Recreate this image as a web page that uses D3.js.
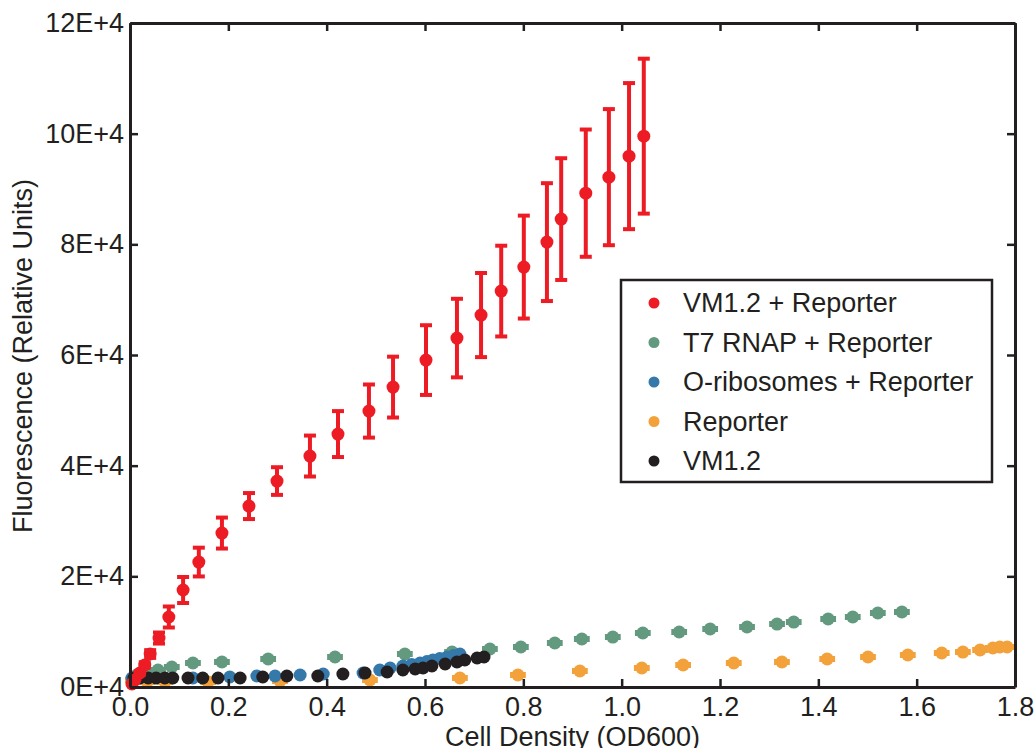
<!DOCTYPE html>
<meta charset="utf-8">
<script src="https://d3js.org/d3.v7.min.js"></script>
<style>
  body { margin: 0; background: #fff; }
  text { font-family: "Liberation Sans", Arial, sans-serif; fill: #231f20; }
</style>
<div id="chart"></div>
<script>

// VM1.2 + Reporter (with standard deviation bars)
var redX   = [0.004, 0.010, 0.020, 0.030, 0.041, 0.059, 0.079, 0.108, 0.140, 0.187, 0.242, 0.299, 0.366, 0.423, 0.486, 0.535, 0.602, 0.665, 0.714, 0.755, 0.801, 0.848, 0.877, 0.927, 0.974, 1.015, 1.045];
var redY   = [540, 1260, 2530, 3975, 5960, 8850, 12650, 17530, 22580, 27820, 32700, 37220, 41740, 45710, 49870, 54200, 59080, 63060, 67220, 71550, 75890, 80400, 84560, 89250, 92140, 95940, 99550];
var redErr = [0, 0, 300, 500, 700, 1000, 1900, 2350, 2600, 2800, 2350, 2500, 3700, 4150, 4800, 5500, 6300, 7100, 7600, 8200, 9300, 10650, 11000, 11500, 12300, 13200, 14000];

// T7 RNAP + Reporter
var greenX = [0.014, 0.035, 0.057, 0.085, 0.128, 0.187, 0.281, 0.417, 0.559, 0.655, 0.732, 0.795, 0.864, 0.919, 0.982, 1.043, 1.117, 1.180, 1.255, 1.316, 1.350, 1.420, 1.470, 1.521, 1.570];
var greenY = [2170, 2530, 3070, 3610, 4340, 4520, 5060, 5420, 5960, 6320, 6870, 7230, 7950, 8670, 9030, 9760, 9940, 10480, 10840, 11380, 11740, 12290, 12650, 13370, 13550];

// O-ribosomes + Reporter
var blueX = [0.004, 0.128, 0.203, 0.258, 0.295, 0.346, 0.393, 0.474, 0.508, 0.529, 0.555, 0.573, 0.590, 0.604, 0.616, 0.630, 0.645, 0.658, 0.671];
var blueY = [1630, 1630, 1810, 1990, 1990, 2170, 2350, 2530, 3070, 3430, 3790, 4060, 4340, 4600, 4880, 5150, 5420, 5690, 5960];

// Reporter
var orangeX = [0.006, 0.035, 0.071, 0.159, 0.305, 0.488, 0.671, 0.789, 0.915, 1.041, 1.125, 1.228, 1.326, 1.418, 1.501, 1.582, 1.651, 1.694, 1.729, 1.755, 1.769, 1.784];
var orangeY = [1260, 900, 900, 900, 1080, 1260, 1630, 2170, 2890, 3430, 3975, 4340, 4520, 5060, 5420, 5780, 6140, 6320, 6690, 7050, 7230, 7230];

// VM1.2
var blackX = [0.008, 0.020, 0.037, 0.053, 0.071, 0.087, 0.118, 0.148, 0.179, 0.224, 0.270, 0.319, 0.382, 0.433, 0.478, 0.523, 0.555, 0.580, 0.596, 0.614, 0.641, 0.665, 0.681, 0.706, 0.720];
var blackY = [1630, 1630, 1630, 1630, 1630, 1630, 1630, 1630, 1630, 1630, 1810, 1990, 1990, 2350, 2530, 2710, 3070, 3250, 3430, 3790, 4160, 4520, 4880, 5240, 5420];

var xTicks = [0, 0.2, 0.4, 0.6, 0.8, 1.0, 1.2, 1.4, 1.6, 1.8];
var yTicks = [0, 20000, 40000, 60000, 80000, 100000, 120000];

var seriesNames  = ["VM1.2 + Reporter", "T7 RNAP + Reporter", "O-ribosomes + Reporter", "Reporter", "VM1.2"];
var seriesColors = ["#ed1c24", "#639a7f", "#3579ab", "#f3a23b", "#231f20"];

// small horizontal (OD) error for the T7 and Reporter series
var odErr = 0.013;

var margin = {top: 23, right: 19, bottom: 61, left: 130},
    width = 1034 - margin.left - margin.right,
    height = 748 - margin.top - margin.bottom;

var svg = d3.select("#chart")
  .append("svg")
    .attr("width", 1034)
    .attr("height", 748)
  .append("g")
    .attr("transform", "translate(" + margin.left + "," + margin.top + ")");

var x = d3.scaleLinear().domain([0, 1.8]).range([0, width]);
var y = d3.scaleLinear().domain([0, 120000]).range([height, 0]);

function pts(xs, ys) {
  return xs.map(function(d, i) { return {x: d, y: ys[i]}; });
}

// draws one series: optional horizontal bars, optional vertical bars, then dots
function drawSeries(data, color, r, hBars, vErr) {
  var g = svg.append("g");
  if (hBars) {
    data.forEach(function(d) {
      var x0 = x(d.x - odErr), x1 = x(d.x + odErr), cy = y(d.y);
      g.append("line").attr("x1", x0).attr("x2", x1).attr("y1", cy).attr("y2", cy)
        .style("stroke", color).style("stroke-width", 5);
      [x0, x1].forEach(function(cx) {
        g.append("line").attr("x1", cx).attr("x2", cx).attr("y1", cy - 3).attr("y2", cy + 3)
          .style("stroke", color).style("stroke-width", 3);
      });
    });
  }
  if (vErr) {
    data.forEach(function(d, i) {
      if (!vErr[i]) return;
      var cx = x(d.x), y0 = y(d.y - vErr[i]), y1 = y(d.y + vErr[i]);
      g.append("line").attr("x1", cx).attr("x2", cx).attr("y1", y0).attr("y2", y1)
        .style("stroke", color).style("stroke-width", 4);
      [y0, y1].forEach(function(cy) {
        g.append("line").attr("x1", cx - 6).attr("x2", cx + 6).attr("y1", cy).attr("y2", cy)
          .style("stroke", color).style("stroke-width", 4);
      });
    });
  }
  g.selectAll("circle")
    .data(data)
    .enter()
    .append("circle")
      .attr("cx", function(d) { return x(d.x); })
      .attr("cy", function(d) { return y(d.y); })
      .attr("r", r)
      .style("fill", color);
}

drawSeries(pts(greenX, greenY), seriesColors[1], 6.5, true, null);
drawSeries(pts(orangeX, orangeY), seriesColors[3], 6.5, true, null);
drawSeries(pts(blueX, blueY), seriesColors[2], 6.5, false, null);
drawSeries(pts(blackX, blackY), seriesColors[4], 6.5, false, null);
drawSeries(pts(redX, redY), seriesColors[0], 6.5, false, redErr);

// axes, ticks pointing inwards, on all four sides
var fmtY = function(d) { return (d / 10000) + "E+4"; };

var xAxis = svg.append("g")
  .attr("transform", "translate(0," + height + ")")
  .call(d3.axisBottom(x).tickValues(xTicks).tickSizeInner(-8).tickSizeOuter(0).tickPadding(10)
    .tickFormat(d3.format(".1f")));
var xAxisTop = svg.append("g")
  .call(d3.axisTop(x).tickValues(xTicks).tickSizeInner(-8).tickSizeOuter(0).tickFormat(""));
var yAxis = svg.append("g")
  .call(d3.axisLeft(y).tickValues(yTicks).tickSizeInner(-8).tickSizeOuter(0).tickPadding(6)
    .tickFormat(fmtY));
var yAxisRight = svg.append("g")
  .attr("transform", "translate(" + width + ",0)")
  .call(d3.axisRight(y).tickValues(yTicks).tickSizeInner(-8).tickSizeOuter(0).tickFormat(""));

[xAxis, xAxisTop, yAxis, yAxisRight].forEach(function(a) {
  a.select(".domain").style("stroke", "#231f20").style("stroke-width", 3);
  a.selectAll(".tick line").style("stroke", "#231f20").style("stroke-width", 2.5);
  a.selectAll(".tick text")
    .style("font-family", "'Liberation Sans', Arial, sans-serif")
    .style("font-size", "27px")
    .style("fill", "#231f20");
});
xAxis.selectAll(".tick text").attr("dy", "0.71em");

// axis titles
svg.append("text")
  .attr("x", width / 2)
  .attr("y", height + 59)
  .style("text-anchor", "middle")
  .style("font-size", "27px")
  .text("Cell Density (OD600)");

svg.append("text")
  .attr("transform", "rotate(-90)")
  .attr("x", -(356 - margin.top))
  .attr("y", -margin.left + 32)
  .style("text-anchor", "middle")
  .style("font-size", "27px")
  .text("Fluorescence (Relative Units)");

// legend
var legend = svg.append("g")
  .attr("transform", "translate(" + (621 - margin.left) + "," + (280 - margin.top) + ")");

legend.append("rect")
  .attr("width", 371)
  .attr("height", 202)
  .style("fill", "#fff")
  .style("stroke", "#231f20")
  .style("stroke-width", 2.5);

var item = legend.selectAll(".item")
  .data(seriesNames)
  .enter()
  .append("g")
    .attr("transform", function(d, i) { return "translate(0," + (23 + i * 39.5) + ")"; });

item.append("circle")
  .attr("cx", 33)
  .attr("r", 5.5)
  .style("fill", function(d, i) { return seriesColors[i]; });

item.append("text")
  .attr("x", 62)
  .attr("dy", "0.35em")
  .style("font-size", "27px")
  .text(function(d) { return d; });

</script>
